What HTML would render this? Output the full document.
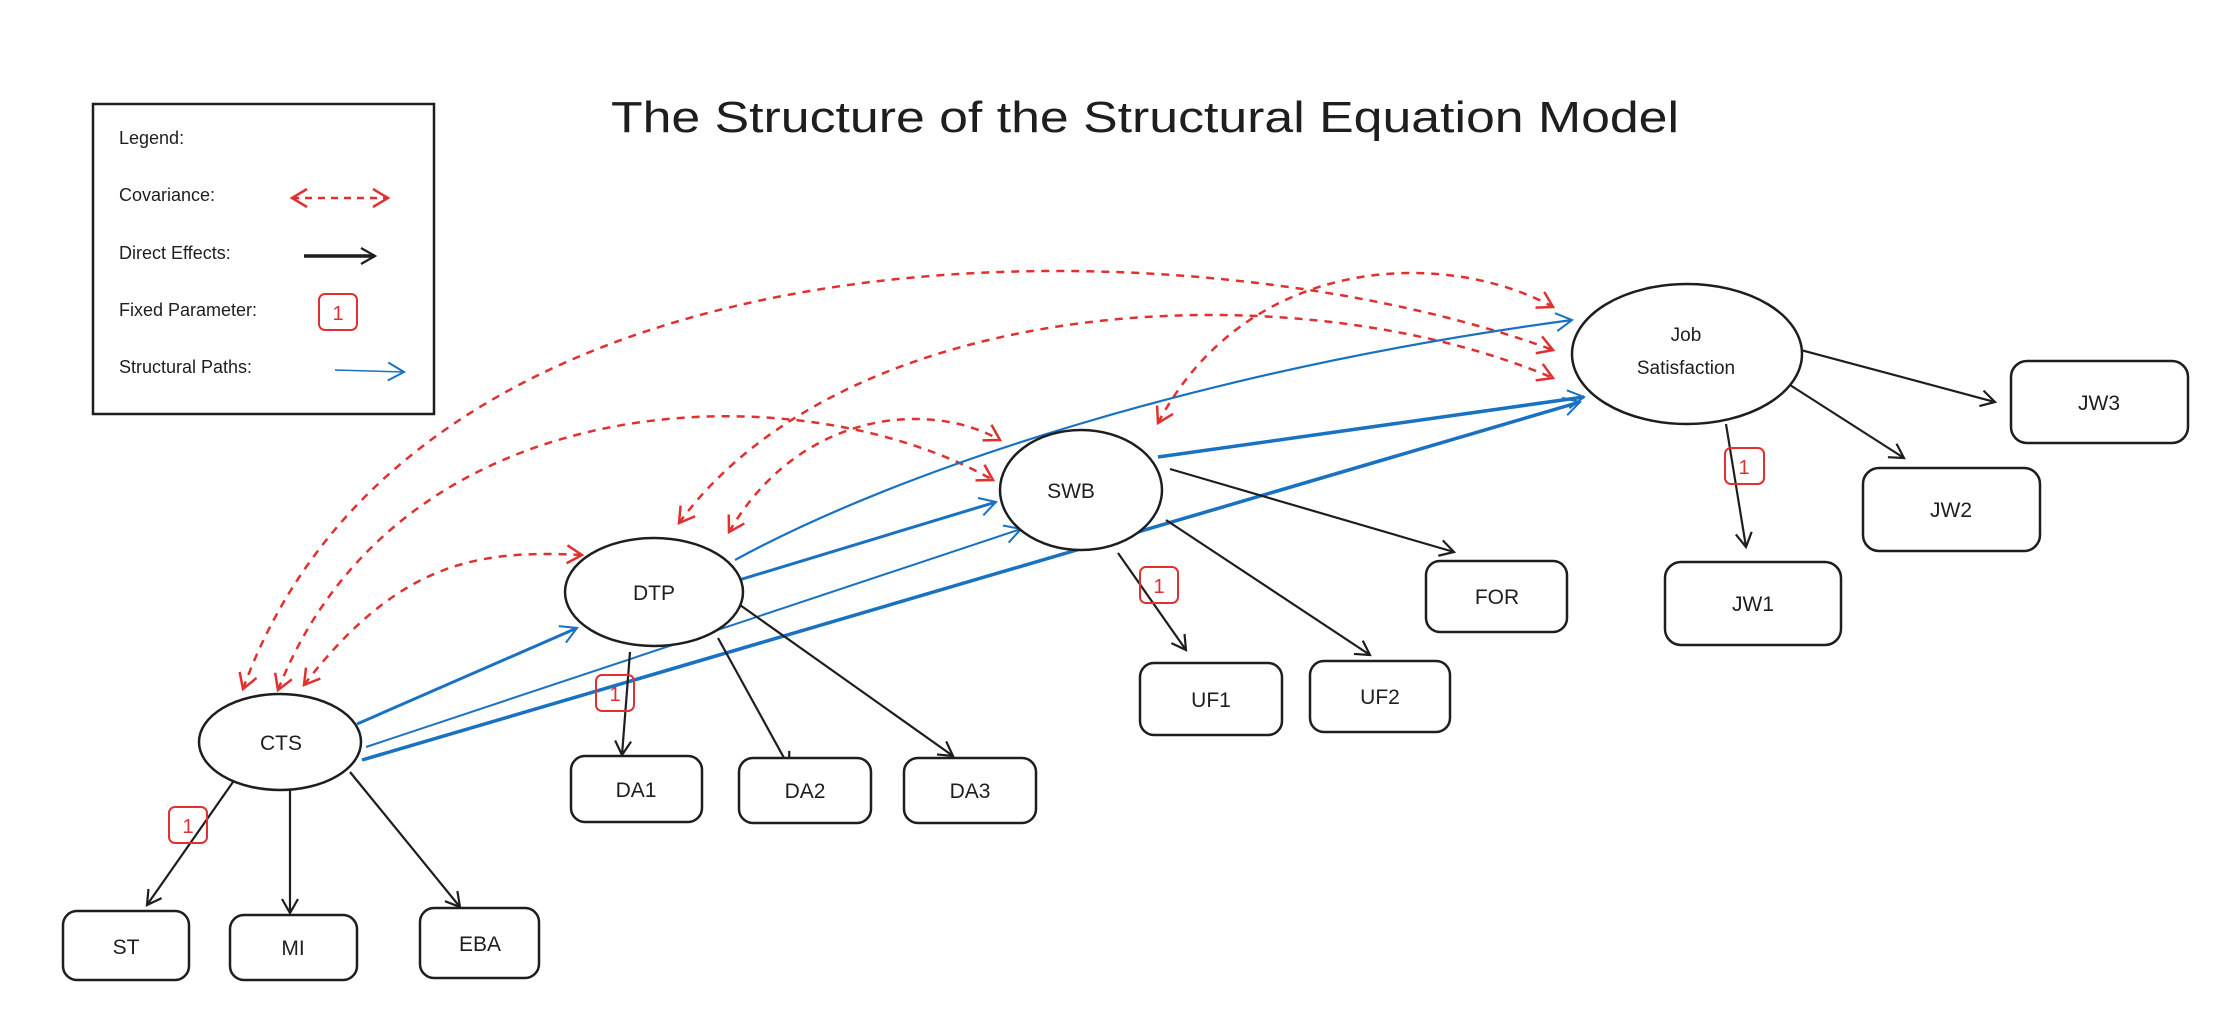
<!DOCTYPE html>
<html><head><meta charset="utf-8"><style>
html,body{margin:0;padding:0;background:#fff;width:2238px;height:1014px;overflow:hidden}
svg{display:block}
text{font-family:"Liberation Sans",sans-serif;fill:#1e1e1e}
</style></head><body>
<svg width="2238" height="1014" viewBox="0 0 2238 1014" xmlns="http://www.w3.org/2000/svg">
<defs>
<marker id="ak" markerWidth="20" markerHeight="20" refX="16" refY="10" orient="auto" markerUnits="userSpaceOnUse"><path d="M2,2 L16,10 L2,18" fill="none" stroke="#1e1e1e" stroke-width="2.2"/></marker>
<marker id="ab" markerWidth="22" markerHeight="22" refX="18" refY="11" orient="auto" markerUnits="userSpaceOnUse"><path d="M2,2 L18,11 L2,20" fill="none" stroke="#1971c2" stroke-width="2"/></marker>
<marker id="ar" markerWidth="24" markerHeight="24" refX="18" refY="12" orient="auto-start-reverse" markerUnits="userSpaceOnUse"><path d="M3,3 L18,12 L3,21" fill="none" stroke="#e03131" stroke-width="2.5"/></marker>
</defs>

<!-- title -->
<text x="611" y="132" font-size="44" textLength="1068" lengthAdjust="spacingAndGlyphs">The Structure of the Structural Equation Model</text>

<!-- legend -->
<rect x="93" y="104" width="341" height="310" fill="none" stroke="#1e1e1e" stroke-width="2.5"/>
<g font-size="18">
<text x="119" y="144">Legend:</text>
<text x="119" y="201">Covariance:</text>
<text x="119" y="259">Direct Effects:</text>
<text x="119" y="316">Fixed Parameter:</text>
<text x="119" y="373">Structural Paths:</text>
</g>
<path d="M292,198 L388,198" stroke="#e03131" stroke-width="2.5" stroke-dasharray="7,6" fill="none" marker-end="url(#ar)" marker-start="url(#ar)"/>
<path d="M304,256 L375,256" stroke="#1e1e1e" stroke-width="3.5" fill="none" marker-end="url(#ak)"/>
<rect x="319" y="294" width="38" height="36" rx="6" fill="none" stroke="#e03131" stroke-width="2"/>
<text x="338" y="320" font-size="20" text-anchor="middle" style="fill:#e03131">1</text>
<path d="M335,370 L404,372" stroke="#1971c2" stroke-width="1.5" fill="none" marker-end="url(#ab)"/>

<!-- covariances -->
<g stroke="#e03131" stroke-width="2.5" stroke-dasharray="8,7" fill="none" marker-start="url(#ar)" marker-end="url(#ar)">
<path d="M243,689 C420,200 1200,220 1553,350"/>
<path d="M278,690 C400,380 800,370 993,480"/>
<path d="M304,685 C400,560 480,550 582,555"/>
<path d="M679,523 C850,290 1300,270 1553,378"/>
<path d="M729,532 C800,410 930,400 1000,440"/>
<path d="M1158,423 C1250,250 1450,250 1553,307"/>
</g>

<!-- structural paths -->
<g stroke="#1971c2" fill="none" marker-end="url(#ab)">
<path d="M357,724 L577,628" stroke-width="3"/>
<path d="M366,747 L1021,529" stroke-width="2"/>
<path d="M362,760 L1580,402" stroke-width="3.5"/>
<path d="M739,580 L996,502" stroke-width="3"/>
<path d="M735,560 C900,470 1200,370 1572,320" stroke-width="2.2"/>
<path d="M1158,457 L1584,397" stroke-width="3.5"/>
</g>

<!-- direct effects -->
<g stroke="#1e1e1e" stroke-width="2.2" fill="none" marker-end="url(#ak)">
<path d="M233,782 L147,905"/>
<path d="M290,790 L290,913"/>
<path d="M350,772 L460,907"/>
<path d="M630,652 L622,755"/>
<path d="M718,638 L789,767"/>
<path d="M740,605 L953,756"/>
<path d="M1118,553 L1186,650"/>
<path d="M1166,520 L1370,655"/>
<path d="M1170,469 L1454,552"/>
<path d="M1726,424 L1746,547"/>
<path d="M1790,385 L1904,458"/>
<path d="M1801,350 L1995,402"/>
</g>

<!-- latent nodes -->
<g fill="#fff" stroke="#1e1e1e" stroke-width="2.5">
<ellipse cx="280" cy="742" rx="81" ry="48"/>
<ellipse cx="654" cy="592" rx="89" ry="54"/>
<ellipse cx="1081" cy="490" rx="81" ry="60"/>
<ellipse cx="1687" cy="354" rx="115" ry="70"/>
</g>
<g font-size="21" text-anchor="middle">
<text x="281" y="750">CTS</text>
<text x="654" y="600">DTP</text>
<text x="1071" y="498">SWB</text>
<text x="1686" y="341" font-size="19">Job</text>
<text x="1686" y="374" font-size="19">Satisfaction</text>
</g>

<!-- observed nodes -->
<g fill="#fff" stroke="#1e1e1e" stroke-width="2.5">
<rect x="63" y="911" width="126" height="69" rx="14"/>
<rect x="230" y="915" width="127" height="65" rx="14"/>
<rect x="420" y="908" width="119" height="70" rx="14"/>
<rect x="571" y="756" width="131" height="66" rx="14"/>
<rect x="739" y="758" width="132" height="65" rx="14"/>
<rect x="904" y="758" width="132" height="65" rx="14"/>
<rect x="1140" y="663" width="142" height="72" rx="14"/>
<rect x="1310" y="661" width="140" height="71" rx="14"/>
<rect x="1426" y="561" width="141" height="71" rx="14"/>
<rect x="1665" y="562" width="176" height="83" rx="16"/>
<rect x="1863" y="468" width="177" height="83" rx="16"/>
<rect x="2011" y="361" width="177" height="82" rx="16"/>
</g>
<g font-size="21" text-anchor="middle">
<text x="126" y="954">ST</text>
<text x="293" y="955">MI</text>
<text x="480" y="951">EBA</text>
<text x="636" y="797">DA1</text>
<text x="805" y="798">DA2</text>
<text x="970" y="798">DA3</text>
<text x="1211" y="707">UF1</text>
<text x="1380" y="704">UF2</text>
<text x="1497" y="604">FOR</text>
<text x="1753" y="611">JW1</text>
<text x="1951" y="517">JW2</text>
<text x="2099" y="410">JW3</text>
</g>

<!-- fixed parameter badges -->
<g fill="#fff" fill-opacity="0" stroke="#e03131" stroke-width="2">
<rect x="169" y="807" width="38" height="36" rx="6"/>
<rect x="596" y="675" width="38" height="36" rx="6"/>
<rect x="1140" y="567" width="38" height="36" rx="6"/>
<rect x="1725" y="448" width="39" height="36" rx="6"/>
</g>
<g font-size="20" text-anchor="middle" style="fill:#e03131">
<text x="188" y="833" style="fill:#e03131">1</text>
<text x="615" y="701" style="fill:#e03131">1</text>
<text x="1159" y="593" style="fill:#e03131">1</text>
<text x="1744" y="474" style="fill:#e03131">1</text>
</g>
</svg>
</body></html>
